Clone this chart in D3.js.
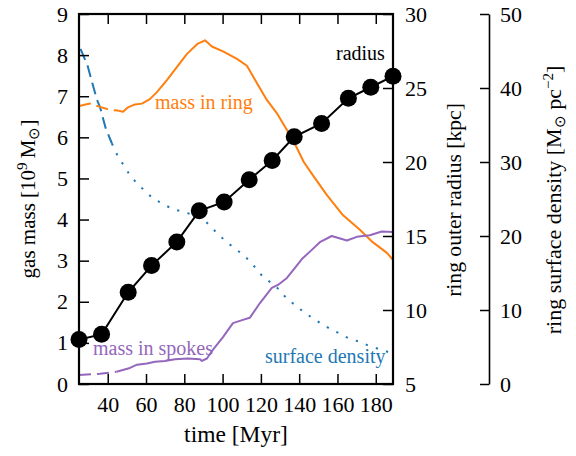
<!DOCTYPE html>
<html><head><meta charset="utf-8">
<script src="https://cdn.jsdelivr.net/npm/d3@7/dist/d3.min.js"></script>
<style>
body{margin:0;background:#fff}
text{font-family:"Liberation Serif","Times New Roman",serif !important;}
</style>
</head><body>
<svg id="c" width="576" height="456"></svg>
<script>
// ---- data ----
const timeTicks = [40, 60, 80, 100, 120, 140, 160, 180];
const massTicks = [0, 1, 2, 3, 4, 5, 6, 7, 8, 9];
const radiusTicks = [5, 10, 15, 20, 25, 30];
const densityTicks = [0, 10, 20, 30, 40, 50];

const radiusTime = [25, 36.8, 50.7, 62.9, 76.1, 87.8, 100.8, 113.9, 125.9, 137.4, 151.7, 165.7, 177.4, 189];
const radiusKpc  = [8.0, 8.36, 11.2, 13.0, 14.6, 16.7, 17.3, 18.8, 20.1, 21.7, 22.6, 24.3, 25.05, 25.8];

const ringTime = [25, 30.7, 36, 41.2, 45.4, 48, 50.6, 54.2, 57.9, 62, 65.7, 70.9, 76.1, 81.4, 87.1, 90.8, 94.4, 100.2, 107.5, 112.7, 117.9, 123.1, 128.3, 133.6, 138.3, 142.4, 147.1, 154.4, 162.8, 171.7, 178.4, 185.8, 189];
const ringMass = [6.76, 6.82, 6.74, 6.67, 6.65, 6.62, 6.73, 6.80, 6.82, 6.93, 7.10, 7.39, 7.71, 8.03, 8.28, 8.36, 8.21, 8.09, 7.91, 7.74, 7.32, 6.91, 6.59, 6.18, 5.79, 5.40, 5.08, 4.60, 4.11, 3.75, 3.45, 3.19, 3.02];

const spokesTime = [25, 36, 42.2, 44.6, 51.6, 55.3, 60.5, 64.7, 69.9, 75.1, 81.9, 88.2, 89.2, 91.8, 94.9, 100.2, 105.4, 110.6, 114.2, 119.5, 125.7, 128.9, 133.6, 137.7, 141.4, 145.6, 150.8, 157, 164.9, 170.1, 176.9, 183.1, 189];
const spokesMass = [0.22, 0.25, 0.28, 0.30, 0.39, 0.47, 0.50, 0.54, 0.56, 0.60, 0.62, 0.60, 0.56, 0.62, 0.83, 1.14, 1.48, 1.56, 1.61, 1.97, 2.34, 2.41, 2.58, 2.82, 3.04, 3.22, 3.45, 3.60, 3.49, 3.58, 3.62, 3.71, 3.70];

const densityTime = [25.8, 29.5, 31.8, 34.4, 36, 38.9, 42.2, 45.4, 48.5, 51.6, 55.3, 59.4, 63.6, 68.3, 73.5, 78.8, 82.9, 89.2, 93.4, 97, 101.2, 105.4, 110.1, 114.2, 117.9, 121, 125.7, 129.9, 133.6, 138.3, 142.4, 147.1, 151.8, 156.5, 161.2, 166.4, 171.7, 176.9, 182.1, 186.8];
const densityVal  = [45.3, 43.0, 40.8, 38.4, 37.4, 34.6, 32.5, 30.7, 29.5, 28.2, 27.1, 26.1, 25.1, 24.4, 23.7, 23.3, 23.0, 22.4, 21.4, 20.4, 19.4, 18.5, 17.6, 16.6, 15.5, 14.5, 13.6, 12.7, 11.5, 10.6, 9.7, 8.9, 8.1, 7.4, 6.8, 6.1, 5.7, 5.1, 4.7, 4.3];

const ringDashEnd = 45.4, spokesDashEnd = 44.6, densityDashEnd = 42.2;

// ---- layout ----
const SERIF = '"Liberation Serif","Times New Roman",serif';
const L = 79, R = 393, T = 14, B = 384;
const svg = d3.select("#c");
const x = d3.scaleLinear().domain([25, 189]).range([L, R]);
const yMass = d3.scaleLinear().domain([0, 9]).range([B, T]);
const yRad = d3.scaleLinear().domain([5, 30]).range([B, T]);
const yDen = d3.scaleLinear().domain([0, 50]).range([B, T]);

svg.append("defs").append("clipPath").attr("id", "clip")
  .append("rect").attr("x", L).attr("y", T).attr("width", R - L).attr("height", B - T);

const plot = svg.append("g").attr("clip-path", "url(#clip)");

function series(ts, vs) { return ts.map((t, i) => [t, vs[i]]); }
function drawSplit(data, tEnd, yScale, color, style2) {
  const line = d3.line().x(d => x(d[0])).y(d => yScale(d[1]));
  const a = data.filter(d => d[0] <= tEnd), b = data.filter(d => d[0] >= tEnd);
  plot.append("path").attr("d", line(a)).attr("fill", "none").attr("stroke", color)
    .attr("stroke-width", 2).attr("stroke-dasharray", "12,6");
  const p = plot.append("path").attr("d", line(b)).attr("fill", "none").attr("stroke", color)
    .attr("stroke-width", 2).attr("stroke-linejoin", "round");
  if (style2 === "dot") p.attr("stroke-dasharray", "2.2,8.5");
}
drawSplit(series(densityTime, densityVal), densityDashEnd, yDen, "#1f77b4", "dot");
drawSplit(series(ringTime, ringMass), ringDashEnd, yMass, "#ff7f0e", "solid");
drawSplit(series(spokesTime, spokesMass), spokesDashEnd, yMass, "#9467bd", "solid");

// radius line + markers
const rad = series(radiusTime, radiusKpc);
svg.append("path").attr("d", d3.line().x(d => x(d[0])).y(d => yRad(d[1]))(rad))
  .attr("fill", "none").attr("stroke", "#000").attr("stroke-width", 2);
svg.selectAll("circle.m").data(rad).enter().append("circle")
  .attr("cx", d => x(d[0])).attr("cy", d => yRad(d[1])).attr("r", 8.5).attr("fill", "#000");

// axes
function styleAxis(g) {
  g.attr("font-family", SERIF).attr("font-size", 22);
  g.selectAll(".tick line").attr("stroke", "#000").attr("stroke-width", 1.5);
  g.selectAll(".tick text").style("font-size", "22px").attr("fill", "#000")
    .style("font-family", SERIF);
}
const gl = svg.append("g").attr("transform", `translate(${L},0)`)
  .call(d3.axisLeft(yMass).tickValues(massTicks).tickSizeInner(-10).tickSizeOuter(0).tickPadding(11));
gl.select(".domain").remove(); styleAxis(gl);

const gb = svg.append("g").attr("transform", `translate(0,${B})`)
  .call(d3.axisBottom(x).tickValues(timeTicks).tickSizeInner(-10).tickSizeOuter(0).tickPadding(12.5));
gb.select(".domain").remove(); styleAxis(gb);

const gt = svg.append("g").attr("transform", `translate(0,${T})`)
  .call(d3.axisTop(x).tickValues(timeTicks).tickSizeInner(-10).tickSizeOuter(0).tickFormat(""));
gt.select(".domain").remove(); styleAxis(gt);

const gr = svg.append("g").attr("transform", `translate(${R},0)`)
  .call(d3.axisRight(yRad).tickValues(radiusTicks).tickSizeInner(-10).tickSizeOuter(0).tickPadding(12));
gr.select(".domain").remove(); styleAxis(gr);

const gd = svg.append("g").attr("transform", `translate(489,0)`)
  .call(d3.axisRight(yDen).tickValues(densityTicks).tickSizeInner(-9).tickSizeOuter(0).tickPadding(11));
gd.select(".domain").attr("stroke", "#000").attr("stroke-width", 1.6); styleAxis(gd);

svg.append("rect").attr("x", L).attr("y", T).attr("width", R - L).attr("height", B - T)
  .attr("fill", "none").attr("stroke", "#000").attr("stroke-width", 2.2);

// in-plot labels
const fs = 20;
function label(txt, px, py, color) {
  svg.append("text").attr("x", px).attr("y", py).style("font-size", fs + "px").attr("fill", color).text(txt);
}
label("mass in ring", 155, 109, "#ff7f0e");
label("radius", 336, 60, "#000");
label("mass in spokes", 93, 355, "#9467bd");
label("surface density", 265, 363, "#1f77b4");

// axis titles
svg.append("text").attr("x", 236).attr("y", 442).attr("text-anchor", "middle")
  .style("font-size", "23.5px").text("time [Myr]");

const t1 = svg.append("text").attr("transform", "translate(35,199) rotate(-90)")
  .attr("text-anchor", "middle").style("font-size", "21px");
t1.append("tspan").text("gas mass [10");
t1.append("tspan").attr("dy", -8).style("font-size", "15px").text("9");
t1.append("tspan").attr("dy", 8).text("\u2009M");
t1.append("tspan").attr("dy", 4).style("font-size", "15px").text("\u2299");
t1.append("tspan").attr("dy", -4).text("]");

svg.append("text").attr("transform", "translate(461,200) rotate(-90)")
  .attr("text-anchor", "middle").style("font-size", "21.6px").text("ring outer radius [kpc]");

const t3 = svg.append("text").attr("transform", "translate(561,200) rotate(-90)")
  .attr("text-anchor", "middle").style("font-size", "22px");
t3.append("tspan").text("ring surface density [M");
t3.append("tspan").attr("dy", 4).style("font-size", "15px").text("\u2299");
t3.append("tspan").attr("dy", -4).text(" pc");
t3.append("tspan").attr("dy", -8).style("font-size", "15px").text("\u22122");
t3.append("tspan").attr("dy", 8).text("]");
</script>
</body></html>
